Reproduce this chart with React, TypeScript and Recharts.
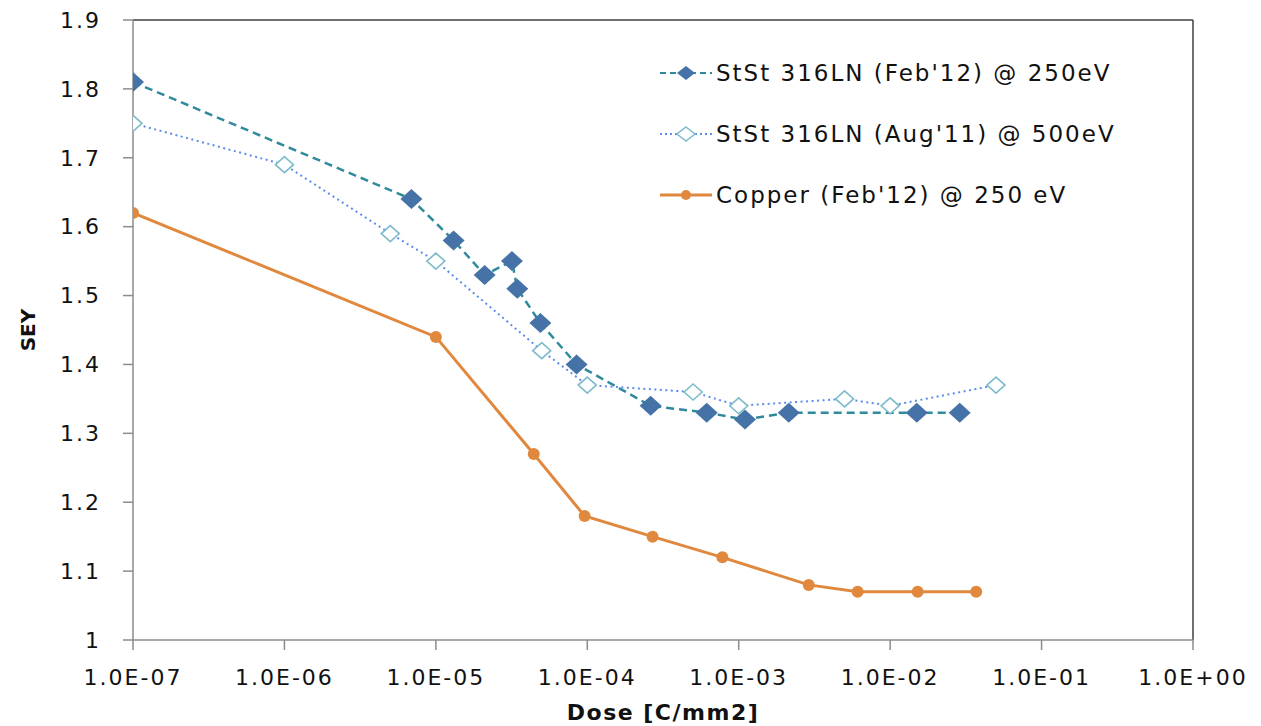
import React from "react";
import {
    LineChart,
    Line,
    XAxis,
    YAxis,
    ReferenceLine
} from "recharts";

// Dose in C/mm2, SEY values for each sample
const feb12Dose = [1e-7, 6.9e-6, 1.31e-5, 2.1e-5, 3.18e-5, 3.45e-5, 4.9e-5, 8.5e-5, 2.62e-4, 6.15e-4, 1.1e-3, 2.14e-3, 1.5e-2, 2.88e-2];
const feb12Sey = [1.81, 1.64, 1.58, 1.53, 1.55, 1.51, 1.46, 1.40, 1.34, 1.33, 1.32, 1.33, 1.33, 1.33];

const aug11Dose = [1e-7, 1e-6, 5e-6, 1e-5, 5e-5, 1e-4, 5e-4, 1e-3, 5e-3, 1e-2, 5e-2];
const aug11Sey = [1.75, 1.69, 1.59, 1.55, 1.42, 1.37, 1.36, 1.34, 1.35, 1.34, 1.37];

const copperDose = [1e-7, 1e-5, 4.43e-5, 9.6e-5, 2.7e-4, 7.8e-4, 2.9e-3, 6.1e-3, 1.52e-2, 3.7e-2];
const copperSey = [1.62, 1.44, 1.27, 1.18, 1.15, 1.12, 1.08, 1.07, 1.07, 1.07];

const doseTicks = [1e-7, 1e-6, 1e-5, 1e-4, 1e-3, 1e-2, 1e-1, 1];
const seyTicks = [1, 1.1, 1.2, 1.3, 1.4, 1.5, 1.6, 1.7, 1.8, 1.9];

const seriesNames = [
    "StSt 316LN (Feb'12) @ 250eV",
    "StSt 316LN (Aug'11) @ 500eV",
    "Copper (Feb'12) @ 250 eV"
];

const toPoints = (dose: number[], sey: number[]) => dose.map((d, i) => ({ dose: d, sey: sey[i] }));

const feb12Data = toPoints(feb12Dose, feb12Sey);
const aug11Data = toPoints(aug11Dose, aug11Sey);
const copperData = toPoints(copperDose, copperSey);

const FONT = "'DejaVu Sans', Verdana, sans-serif";
const BLUE = "#4573a7";
const TEAL = "#2f8a9c";
const DOTTED = "#5b8def";
const OPEN = "#7dbbcb";
const ORANGE = "#e0893e";
const AXIS = "#8c8c8c";

// 1e-7 -> "1.0E-07"
const formatDose = (v: number) => {
    const [mant, exp] = v.toExponential(1).split("e");
    const n = parseInt(exp, 10);
    return `${mant}E${n < 0 ? "-" : "+"}${String(Math.abs(n)).padStart(2, "0")}`;
};

const FilledDiamond = (props: any) => {
    const { cx, cy, index } = props;
    if (cx == null || cy == null) return <g key={index} />;
    return (
        <path
            key={index}
            d={`M${cx},${cy - 10} L${cx + 11},${cy} L${cx},${cy + 10} L${cx - 11},${cy} Z`}
            fill={BLUE}
        />
    );
};

const OpenDiamond = (props: any) => {
    const { cx, cy, index } = props;
    if (cx == null || cy == null) return <g key={index} />;
    return (
        <path
            key={index}
            d={`M${cx},${cy - 8} L${cx + 9},${cy} L${cx},${cy + 8} L${cx - 9},${cy} Z`}
            fill="#fff"
            stroke={OPEN}
            strokeWidth={1.6}
        />
    );
};

const CopperDot = (props: any) => {
    const { cx, cy, index } = props;
    if (cx == null || cy == null) return <g key={index} />;
    return <circle key={index} cx={cx} cy={cy} r={6} fill={ORANGE} />;
};

const legendIcons = [
    <svg width={56} height={20} key="a">
        <line x1={2} y1={10} x2={54} y2={10} stroke={TEAL} strokeWidth={2} strokeDasharray="6 4" />
        <path d="M28,3 L37,10 L28,17 L19,10 Z" fill={BLUE} />
    </svg>,
    <svg width={56} height={20} key="b">
        <line x1={2} y1={10} x2={54} y2={10} stroke={DOTTED} strokeWidth={2} strokeDasharray="2 3" />
        <path d="M28,3 L37,10 L28,17 L19,10 Z" fill="#fff" stroke={OPEN} strokeWidth={1.5} />
    </svg>,
    <svg width={56} height={20} key="c">
        <line x1={2} y1={10} x2={54} y2={10} stroke={ORANGE} strokeWidth={3} />
        <circle cx={28} cy={10} r={5} fill={ORANGE} />
    </svg>
];

// legend box sits over the upper right of the plot
const SeriesLegend = () => (
    <div
        style={{
            position: "absolute",
            left: 658,
            top: 42,
            fontFamily: FONT,
            fontSize: 23,
            letterSpacing: 2,
            color: "#111"
        }}
    >
        {seriesNames.map((name, i) => (
            <div key={name} style={{ display: "flex", alignItems: "center", height: 61 }}>
                {legendIcons[i]}
                <span style={{ marginLeft: 2, whiteSpace: "nowrap" }}>{name}</span>
            </div>
        ))}
    </div>
);

const tickStyle = { fontFamily: FONT, fontSize: 22, fill: "#111", letterSpacing: 2 };

export default function App() {
    return (
        <div style={{ position: "absolute", left: 0, top: 0, width: 1261, height: 726, background: "#fff" }}>
            <LineChart width={1261} height={726} margin={{ top: 20, right: 68, left: 0, bottom: 0 }}>
                <XAxis
                    type="number"
                    dataKey="dose"
                    scale="log"
                    domain={[1e-7, 1]}
                    ticks={doseTicks}
                    tickFormatter={formatDose}
                    allowDataOverflow
                    height={86}
                    tickSize={10}
                    tickMargin={19}
                    tick={tickStyle}
                    axisLine={{ stroke: AXIS, strokeWidth: 1.5 }}
                    tickLine={{ stroke: AXIS, strokeWidth: 1.5 }}
                    label={{
                        content: ({ viewBox }: any) => (
                            <text
                                x={viewBox.x + viewBox.width / 2}
                                y={720}
                                textAnchor="middle"
                                fontFamily={FONT}
                                fontWeight="bold"
                                fontSize={22}
                                letterSpacing={1.5}
                                fill="#111"
                            >
                                Dose [C/mm2]
                            </text>
                        )
                    }}
                />
                <YAxis
                    type="number"
                    dataKey="sey"
                    domain={[1, 1.9]}
                    ticks={seyTicks}
                    tickFormatter={(v: number) => String(+v.toFixed(1))}
                    width={133}
                    tickSize={10}
                    tickMargin={22}
                    tick={tickStyle}
                    axisLine={{ stroke: AXIS, strokeWidth: 1.5 }}
                    tickLine={{ stroke: AXIS, strokeWidth: 1.5 }}
                    label={{
                        content: ({ viewBox }: any) => {
                            const cx = 28;
                            const cy = viewBox.y + viewBox.height / 2;
                            return (
                                <text
                                    x={cx}
                                    y={cy}
                                    transform={`rotate(-90 ${cx} ${cy})`}
                                    textAnchor="middle"
                                    dominantBaseline="central"
                                    fontFamily={FONT}
                                    fontWeight="bold"
                                    fontSize={20}
                                    fill="#111"
                                >
                                    SEY
                                </text>
                            );
                        }
                    }}
                />
                {/* plot frame on top and right */}
                <ReferenceLine y={1.9} stroke="#404040" strokeWidth={1.5} />
                <ReferenceLine x={1} stroke="#404040" strokeWidth={1.5} />
                <Line
                    data={feb12Data}
                    dataKey="sey"
                    name={seriesNames[0]}
                    stroke={TEAL}
                    strokeWidth={2.5}
                    strokeDasharray="8 5"
                    dot={FilledDiamond}
                    activeDot={false}
                    isAnimationActive={false}
                />
                <Line
                    data={aug11Data}
                    dataKey="sey"
                    name={seriesNames[1]}
                    stroke={DOTTED}
                    strokeWidth={2}
                    strokeDasharray="2 3.5"
                    dot={OpenDiamond}
                    activeDot={false}
                    isAnimationActive={false}
                />
                <Line
                    data={copperData}
                    dataKey="sey"
                    name={seriesNames[2]}
                    stroke={ORANGE}
                    strokeWidth={3}
                    dot={CopperDot}
                    activeDot={false}
                    isAnimationActive={false}
                />
            </LineChart>
            <SeriesLegend />
        </div>
    );
}
